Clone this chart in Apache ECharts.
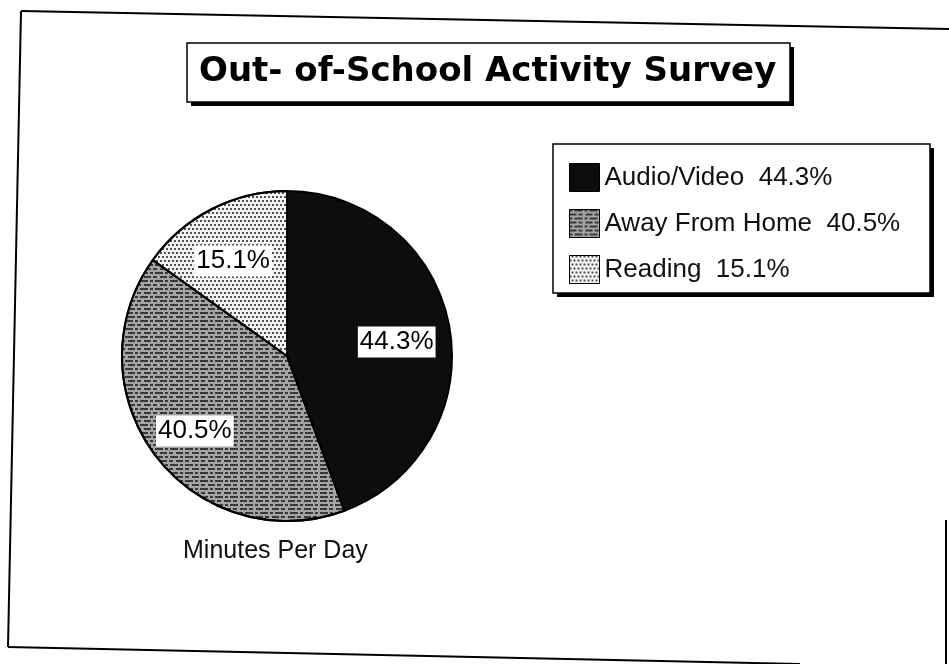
<!DOCTYPE html>
<html>
<head>
<meta charset="utf-8">
<script src="https://cdn.jsdelivr.net/npm/echarts@6/dist/echarts.min.js"></script>
<style>
html,body{margin:0;padding:0;background:#fff;}
#chart{width:949px;height:664px;}
</style>
</head>
<body>
<div id="chart"></div>
<script>
const titleText = 'Out- of-School Activity Survey';
const subText = 'Minutes Per Day';
const categories = ['Audio/Video', 'Away From Home', 'Reading'];
const values = [44.3, 40.5, 15.1];

const sliceColors = ['#0d0d0d', '#a4a4a4', '#f4f4f4'];
const decals = [
  null,
  { symbol: 'rect', symbolSize: 1, color: 'rgba(15,15,15,0.72)', dashArrayX: [[7, 2, 4, 3], [3, 2, 8, 2]], dashArrayY: [2, 2], rotation: 0 },
  { symbol: 'rect', symbolSize: 1, color: 'rgba(40,40,40,0.8)', dashArrayX: [[2, 2], [0, 2, 2, 0]], dashArrayY: [2, 2], rotation: 0 }
];

const pieData = categories.map((name, i) => {
  const style = { color: sliceColors[i] };
  if (decals[i]) style.decal = decals[i];
  return { name: name, value: values[i], itemStyle: style };
});
const labelData = categories.map((name, i) => ({ name: name, value: values[i] }));

const chart = echarts.init(document.getElementById('chart'), null, { renderer: 'canvas' });

function framedBox(x, y, w, h, shadow) {
  return [
    { type: 'rect', z: 1, shape: { x: x + shadow, y: y + shadow, width: w, height: h }, style: { fill: '#000' } },
    { type: 'rect', z: 1, shape: { x: x, y: y, width: w, height: h }, style: { fill: '#fff', stroke: '#000', lineWidth: 1.5 } }
  ];
}

const option = {
  animation: false,
  backgroundColor: '#fff',
  title: [
    {
      text: titleText,
      left: 199,
      top: 52,
      padding: 0,
      z: 10,
      textStyle: {
        fontFamily: 'DejaVu Sans',
        fontWeight: 'bold',
        fontSize: 34,
        lineHeight: 40,
        color: '#000'
      }
    },
    {
      text: subText,
      left: 183,
      top: 539,
      padding: 0,
      textStyle: {
        fontFamily: 'Liberation Sans',
        fontWeight: 'normal',
        fontSize: 25,
        color: '#111'
      }
    }
  ],
  legend: {
    orient: 'vertical',
    left: 569,
    top: 163,
    padding: 0,
    itemWidth: 30,
    itemHeight: 28,
    itemGap: 17,
    icon: 'rect',
    z: 10,
    selectedMode: false,
    data: categories,
    itemStyle: { borderColor: '#000', borderWidth: 1 },
    formatter: function (name) {
      const i = categories.indexOf(name);
      return name + '  ' + values[i] + '%';
    },
    textStyle: {
      fontFamily: 'Liberation Sans',
      fontSize: 26,
      color: '#111'
    }
  },
  graphic: [].concat(
    framedBox(187, 43, 603, 59, 4),
    framedBox(553, 144, 377, 149, 4),
    [
      { type: 'polyline', z: 1, shape: { points: [[21, 11], [949, 29]] }, style: { stroke: '#000', lineWidth: 2, fill: null } },
      { type: 'polyline', z: 1, shape: { points: [[21, 11], [8, 647]] }, style: { stroke: '#000', lineWidth: 2, fill: null } },
      { type: 'polyline', z: 1, shape: { points: [[8, 647], [800, 664]] }, style: { stroke: '#000', lineWidth: 2, fill: null } },
      { type: 'polyline', z: 1, shape: { points: [[946, 520], [946, 664]] }, style: { stroke: '#000', lineWidth: 2, fill: null } }
    ]
  ),
  series: [
    {
      type: 'pie',
      center: [287, 356],
      radius: [0, 165],
      startAngle: 90,
      clockwise: true,
      silent: true,
      label: { show: false },
      labelLine: { show: false },
      itemStyle: { borderColor: '#000', borderWidth: 2 },
      emphasis: { disabled: true },
      data: pieData
    },
    {
      type: 'pie',
      center: [287, 356],
      radius: [56, 165],
      startAngle: 90,
      clockwise: true,
      silent: true,
      itemStyle: { color: 'rgba(0,0,0,0)', borderWidth: 0 },
      emphasis: { disabled: true },
      labelLine: { show: false },
      avoidLabelOverlap: false,
      label: {
        show: true,
        position: 'inside',
        formatter: '{c}%',
        offset: [-2, 6],
        fontFamily: 'Liberation Sans',
        fontSize: 26,
        color: '#000',
        backgroundColor: '#fff',
        padding: [3, 2, 2, 2]
      },
      data: labelData
    }
  ]
};

chart.setOption(option);
</script>
</body>
</html>
